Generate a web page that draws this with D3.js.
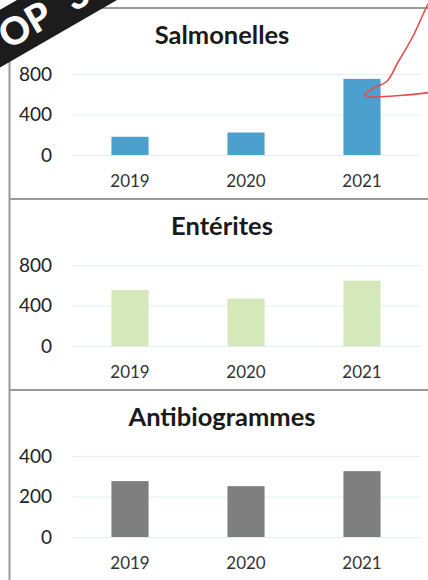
<html>
<head>
<meta charset="utf-8">
<script src="https://d3js.org/d3.v7.min.js"></script>
<style>
  body { margin: 0; background: #fff; }
  svg { display: block; font-family: Lato, "Open Sans", sans-serif; }
</style>
</head>
<body>
<div id="chart"></div>
<script>
// years on the x axis, shared by the three small charts
var years = ["2019", "2020", "2021"]

var titles = ["Salmonelles", "Entérites", "Antibiogrammes"]
var salmonelles = [180, 222, 752]
var enterites = [552, 468, 645]
var antibiogrammes = [276, 251, 325]
var yTicks = [[0, 400, 800], [0, 400, 800], [0, 200, 400]]

var series = [salmonelles, enterites, antibiogrammes]
var colors = ["#4ba0cd", "#d5e8ba", "#7f7f7f"]

var width = 428, height = 580
var panelTop = 8, panelStep = 191

var svg = d3.select("#chart").append("svg")
    .attr("width", width)
    .attr("height", height)

var x = d3.scaleBand()
    .domain(years)
    .range([72, 420])
    .paddingInner(0.68)
    .paddingOuter(0.34)

series.forEach(function(values, i) {
    var top = panelTop + i * panelStep
    var ticks = yTicks[i]
    var y = d3.scaleLinear()
        .domain([0, d3.max(ticks)])
        .range([top + 147, top + 66])

    var g = svg.append("g").attr("class", "panel")

    // panel frame (left + top edge, the rest is cut off)
    g.append("line")
        .attr("x1", 9.5).attr("x2", width)
        .attr("y1", top).attr("y2", top)
        .attr("stroke", "#9a9a9a").attr("stroke-width", 2)

    g.append("text")
        .attr("x", 222).attr("y", top + 36)
        .attr("text-anchor", "middle")
        .attr("font-size", 25.5).attr("font-weight", "bold")
        .attr("fill", "#1a1a1a")
        .text(titles[i])

    // y axis: gridlines + labels, no domain line
    var yAxis = d3.axisLeft(y)
        .tickValues(ticks)
        .tickSize(-(x.range()[1] - x.range()[0]))
        .tickPadding(20)
    g.append("g")
        .attr("transform", "translate(" + x.range()[0] + ",0)")
        .call(yAxis)
        .call(a => a.select(".domain").remove())
        .call(a => a.selectAll("line").attr("stroke", "#e4eeee"))
        .call(a => a.selectAll("text")
            .attr("font-size", 19).attr("fill", "#222")
            .attr("font-family", "Lato, sans-serif"))

    g.selectAll("rect.bar")
        .data(values)
        .join("rect")
        .attr("class", "bar")
        .attr("x", (d, j) => x(years[j]))
        .attr("width", x.bandwidth())
        .attr("y", d => y(d))
        .attr("height", d => y(0) - y(d))
        .attr("fill", colors[i])

    var xAxis = d3.axisBottom(x).tickSize(0).tickPadding(20)
    g.append("g")
        .attr("transform", "translate(0," + y(0) + ")")
        .call(xAxis)
        .call(a => a.select(".domain").remove())
        .call(a => a.selectAll("text")
            .attr("font-size", 17).attr("fill", "#333")
            .attr("font-family", "Lato, sans-serif"))

    // red callout pointing at the 2021 salmonella bar
    if (i == 0) {
        var tipX = x("2021") + x.bandwidth() * 0.58
        var tipY = y(600)
        var arm = [[75, -110], [62, -88], [48, -58], [33, -32], [22, -13], [10, -7], [0, 0],
                   [3, 2.5], [15, 2.5], [38, 1], [70, -2.5]]
        g.append("path")
            .datum(arm.map(p => [tipX + p[0], tipY + p[1]]))
            .attr("d", d3.line().curve(d3.curveCatmullRom))
            .attr("fill", "none")
            .attr("stroke", "#ea4a4a")
            .attr("stroke-width", 1.6)
    }
})

// left frame edge
svg.append("line")
    .attr("x1", 9.5).attr("x2", 9.5)
    .attr("y1", panelTop).attr("y2", height)
    .attr("stroke", "#9a9a9a").attr("stroke-width", 2)

// "TOP 3" corner ribbon, the T falls outside the picture
var ribbon = svg.append("g")
    .attr("transform", "translate(0,38.7) rotate(-30)")
ribbon.append("rect")
    .attr("x", -80).attr("y", -25)
    .attr("width", 260).attr("height", 50)
    .attr("fill", "#1c1c1c")
var letters = ["O", "P", "3"]
var letterPos = [17, 44, 88]
ribbon.selectAll("text")
    .data(letters)
    .join("text")
    .attr("x", (d, k) => letterPos[k])
    .attr("y", 14)
    .attr("text-anchor", "middle")
    .attr("font-size", 38)
    .attr("font-weight", 900)
    .attr("fill", "#fff")
    .attr("font-family", "Lato, sans-serif")
    .text(d => d)
</script>
</body>
</html>
